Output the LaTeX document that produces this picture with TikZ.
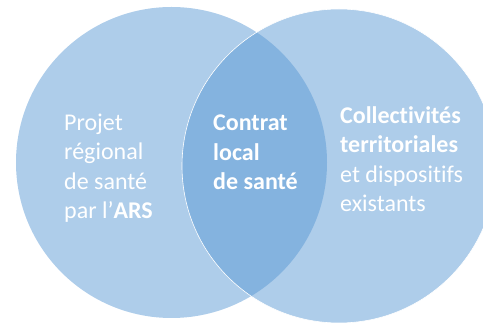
\documentclass[tikz,border=0pt]{standalone}
\usepackage{fontspec}
\setmainfont{Carlito}[Ligatures={TeX,NoCommon}]
\definecolor{lightblue}{RGB}{174,205,234}
\definecolor{midblue}{RGB}{132,179,223}

\begin{document}
\begin{tikzpicture}[x=1pt,y=1pt,every text node part/.style={align=left},
venn text/.style={text=white,font=\fontsize{24}{29.5}\selectfont,anchor=base west,inner sep=0pt}]
\useasboundingbox (0,0) rectangle (483,324);
\clip (0,0) rectangle (483,324);
\fill[lightblue] (171.5,161.5) circle (155.5);
\fill[lightblue] (339,158) circle (157);
\begin{scope}
\clip (171.5,161.5) circle (155.5);
\fill[midblue] (339,158) circle (157);
\end{scope}
\draw[white,line width=0.6pt] (339,158) circle (157);
\node[venn text] (prs) at (64,105) {Projet\\régional\\de santé\\par l'\textbf{ARS}};
\node[venn text,font=\fontsize{24}{29.5}\selectfont\bfseries] (cls) at (213,134) {Contrat\\local\\de santé};
\node[venn text] (ct) at (340,112) {\textbf{Collectivités}\\\textbf{territoriales}\\et dispositifs\\existants};
\end{tikzpicture}
\end{document}
